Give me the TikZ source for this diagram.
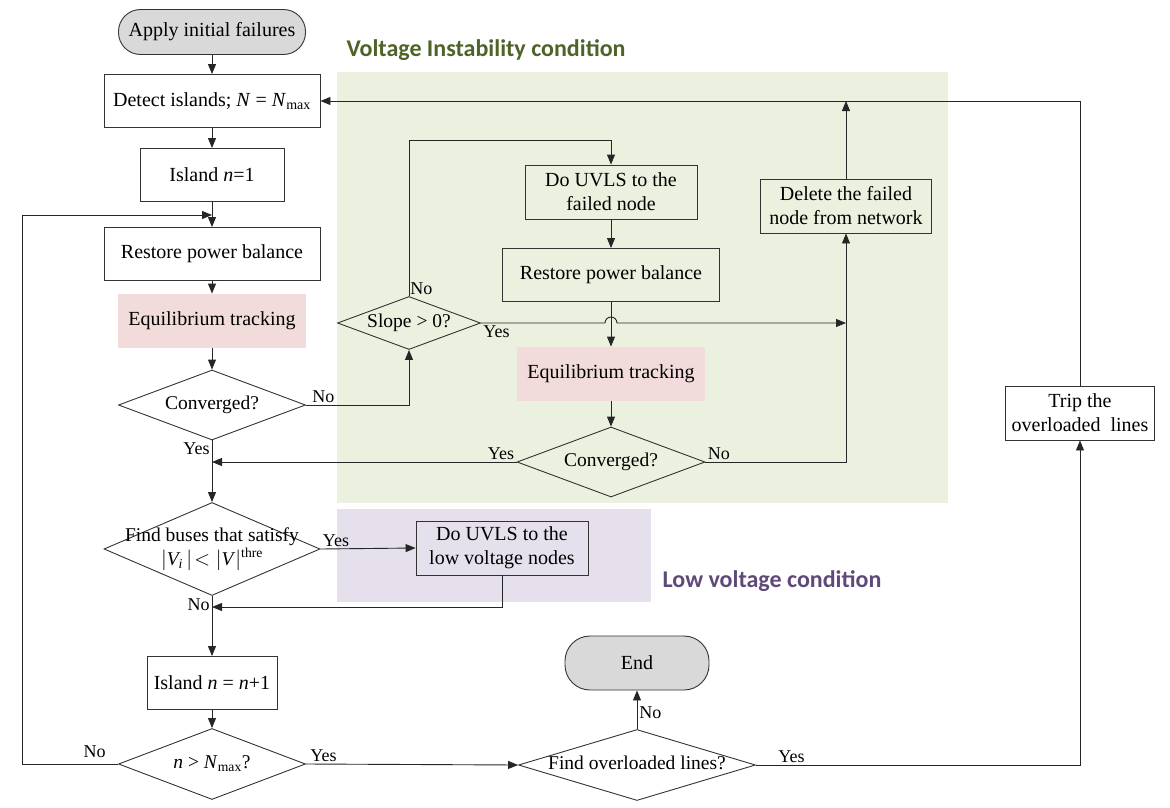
\documentclass[tikz,border=0pt]{standalone}
\usepackage{fontspec}
\setmainfont{Liberation Serif}
\newfontfamily\headfont{Carlito}
\usetikzlibrary{arrows.meta,shapes.geometric,positioning}
\definecolor{vibg}{HTML}{EBF1DE}
\definecolor{lvbg}{HTML}{E5E0EC}
\definecolor{eqfill}{HTML}{F2DCDB}
\definecolor{vitext}{HTML}{4F6228}
\definecolor{lvtext}{HTML}{5F497A}
\newcommand{\dtext}[1]{\makebox[0pt]{\raisebox{-0.25em}[0pt][0pt]{\begin{tabular}{@{}c@{}}#1\end{tabular}}}}

\begin{document}
\begin{tikzpicture}[x=1pt, y=-1pt, line width=0.9pt,
proc/.style = {rectangle, draw=black!80, align=center, inner sep=2pt,
  minimum height=53pt, font=\fontsize{20}{24}\selectfont},
term/.style = {proc, fill=black!15, rounded corners=22pt},
eqt/.style = {rectangle, fill=eqfill, minimum width=188pt, minimum height=54pt,
  font=\fontsize{20}{24}\selectfont},
dia/.style = {diamond, draw=black!80, inner sep=0pt, font=\fontsize{19.5}{23.5}\selectfont},
lbl/.style = {inner sep=2pt, font=\fontsize{18}{21}\selectfont},
head/.style = {font=\headfont\bfseries\fontsize{24}{28}\selectfont},
arr/.style = {draw=black!85, -{Triangle[length=10pt,width=8pt]}}]
\useasboundingbox (0,0) rectangle (1170,808);
\fill[vibg] (337,72) rectangle (948,503);
\fill[lvbg] (337,509) rectangle (651,602);
\node[head, text=vitext] (vititle) at (486,50) {Voltage Instability condition};
\node[head, text=lvtext] (lvtitle) at (772,581) {Low voltage condition};

\node[term, minimum width=187pt, minimum height=45pt] (start) at (212,32) {Apply initial failures};
\node[proc, minimum width=216pt] (detect) at (212,101) {Detect islands; \textit{N} = \textit{N}\textsubscript{max}};
\node[proc, minimum width=144pt] (isl1) at (212,175) {Island \textit{n}=1};
\node[proc, minimum width=216pt] (restL) at (212,254) {Restore power balance};
\node[eqt] (eqL) at (212,321) {Equilibrium tracking};
\node[dia, minimum width=187pt, minimum height=70pt] (convL) at (212,405) {\dtext{Converged?}};
\node[dia, minimum width=216pt, minimum height=93pt] (buses) at (212,549)
  {\dtext{Find buses that satisfy\\ $|$\textit{V\textsubscript{i}}\,$|\!<|$\textit{V}$|$\textsuperscript{thre}}};
\node[proc, minimum width=130pt] (isl2) at (212,683) {Island \textit{n} = \textit{n}+1};
\node[dia, minimum width=187pt, minimum height=71pt] (nmax) at (212,764) {\dtext{\textit{n} > \textit{N}\textsubscript{max}?}};
\node[dia, minimum width=237pt, minimum height=71pt] (over) at (637,765) {\dtext{Find overloaded lines?}};
\node[term, minimum width=144pt, minimum height=54pt, rounded corners=25pt] (end) at (637,663) {End};
\node[proc, minimum width=149pt, minimum height=54pt] (trip) at (1080,413) {Trip the\\overloaded~~lines};

\node[dia, minimum width=143pt, minimum height=53pt] (slope) at (409,323) {\dtext{Slope > 0?}};
\node[proc, minimum width=172pt, minimum height=54pt] (uvlsF) at (611,192) {Do UVLS to the\\failed node};
\node[proc, minimum width=217pt] (restR) at (611,275) {Restore power balance};
\node[eqt] (eqR) at (611,374) {Equilibrium tracking};
\node[dia, minimum width=188pt, minimum height=70pt] (convR) at (611,462) {\dtext{Converged?}};
\node[proc, minimum width=171pt, minimum height=54pt] (delete) at (846,206) {Delete the failed\\node from network};
\node[proc, minimum width=172pt, minimum height=54pt] (uvlsL) at (502,548) {Do UVLS to the\\low voltage nodes};

\coordinate (m1) at (212,215);
\coordinate (lft) at (22,215);
\coordinate (st) at (409,140);
\coordinate (m3) at (212,607);
\coordinate (jn) at (delete.south |- slope.east);

\draw[arr] (start) -- (detect);
\draw[arr] (detect) -- (isl1);
\draw[arr] (isl1) -- (restL);
\draw[arr] (restL) -- (eqL);
\draw[arr] (eqL) -- (convL);
\draw[arr] (convL.south) node[lbl, below left] {Yes} -- (buses.north);
\draw[arr] (buses.south) node[lbl, below left] {No} -- (isl2.north);
\draw[arr] (isl2) -- (nmax);
\draw[arr] (nmax.east) node[lbl, above right, xshift=2pt] {Yes} -- (over.west);
\draw[arr] (over.north) node[lbl, above right, yshift=8pt] {No} -- (end.south);
\draw[arr] (over.east) node[lbl, above right, xshift=20pt] {Yes} -| (trip.south);
\draw[arr] (trip.north) |- (detect.east);
\draw[arr] (nmax.west) node[lbl, above left, xshift=-10pt, yshift=4pt] {No} -| (lft) -- (m1);
\draw[arr] (convL.east) node[lbl, above right, xshift=4pt] {No} -| (slope.south);
\draw[arr] (slope.north) node[lbl, above right, inner sep=1pt] {No} -- (st) -| (uvlsF.north);
\draw[arr] (uvlsF) -- (restR);
\draw[arr] (restR) -- (eqR);
\draw[arr] (eqR) -- (convR);
\draw[arr] (slope.east) node[lbl, below right] {Yes} -- ([xshift=-6pt]restR.south |- slope.east)
  arc[start angle=180, end angle=0, radius=6pt] -- (jn);
\draw[arr] (convR.east) node[lbl, above right] {No} -| (delete.south);
\draw[arr] (delete.north) -- (delete.north |- detect.east);
\draw[arr] (convR.west) node[lbl, above left] {Yes} -- (convL.south |- convR.west);
\draw[arr] (buses.east) node[lbl, above right] {Yes} -- (uvlsL.west);
\draw[arr] (uvlsL.south) |- (m3);
\end{tikzpicture}
\end{document}
